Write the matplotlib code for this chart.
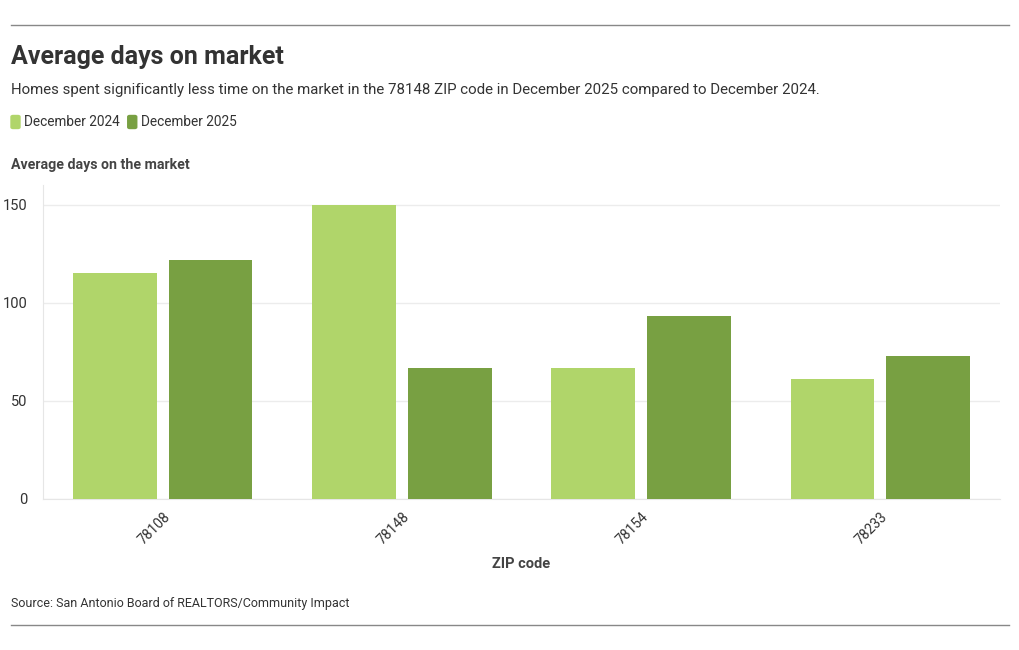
import numpy as np
import matplotlib
matplotlib.use('Agg')
import matplotlib.pyplot as plt
from matplotlib.patches import FancyBboxPatch
from matplotlib.lines import Line2D

plt.rcParams['font.family'] = ['Roboto', 'DejaVu Sans']

zips = ['78108', '78148', '78154', '78233']
dec_2024 = [115, 150, 67, 61]
dec_2025 = [122, 67, 93, 73]
series_names = ['December 2024', 'December 2025']
colors = ['#b0d56a', '#78a042']
yticks = [0, 50, 100, 150]

txt = '#333333'
W, H = 1020, 650

fig = plt.figure(figsize=(10.2, 6.5), dpi=100)
ax = fig.add_axes([43 / W, 1 - 499 / H, 957 / W, 314 / H])

x = np.arange(len(zips))
w = 0.35
ax.bar(x - 0.2, dec_2024, width=w, color=colors[0], zorder=3)
ax.bar(x + 0.2, dec_2025, width=w, color=colors[1], zorder=3)

ax.set_xlim(-0.5, len(zips) - 0.5)
ax.set_ylim(0, 160)
ax.set_yticks(yticks)
ax.set_yticklabels([str(t) for t in yticks], fontsize=10.5, color=txt)
ax.set_xticks(x)
ax.set_xticklabels(zips, rotation=45, ha='right', va='top', fontsize=10, color=txt,
                   rotation_mode='anchor')
ax.tick_params(axis='y', length=0, pad=11)
ax.tick_params(axis='x', length=0, pad=8)
ax.grid(axis='y', color='#ececec', linewidth=1, zorder=0)
for s in ['top', 'right']:
    ax.spines[s].set_visible(False)
ax.spines['left'].set_color('#e6e6e6')
ax.spines['bottom'].set_color('#e6e6e6')

# header / footer
fig.add_artist(Line2D([11 / W, 1009 / W], [1 - 25 / H] * 2, color='#888888', lw=1))
fig.add_artist(Line2D([11 / W, 1009 / W], [1 - 625 / H] * 2, color='#888888', lw=1))
fig.text(11 / W, 1 - 57 / H, 'Average days on market', fontsize=18, fontweight='bold',
         color=txt, va='center')
fig.text(11 / W, 1 - 90 / H,
         'Homes spent significantly less time on the market in the 78148 ZIP code in '
         'December 2025 compared to December 2024.', fontsize=10.8, color=txt, va='center')

renderer = fig.canvas.get_renderer()
lx = 11
for name, c in zip(series_names, colors):
    fig.add_artist(FancyBboxPatch((lx / W, 1 - 128.5 / H), 9 / W, 13 / H,
                                  boxstyle='round,pad=0,rounding_size=0.002',
                                  color=c, transform=fig.transFigure))
    t = fig.text((lx + 13) / W, 1 - 122 / H, name, fontsize=9.8, color=txt, va='center')
    lx += 13 + t.get_window_extent(renderer).width + 8

fig.text(11 / W, 1 - 165 / H, 'Average days on the market', fontsize=10.2,
         fontweight='bold', color='#444444', va='center')
fig.text(521 / W, 1 - 564 / H, 'ZIP code', fontsize=10.5, fontweight='bold',
         color='#444444', va='center', ha='center')
fig.text(11 / W, 1 - 603 / H, 'Source: San Antonio Board of REALTORS/Community Impact',
         fontsize=9, color=txt, va='center')

fig.savefig('out.png', dpi=100, facecolor='white')
